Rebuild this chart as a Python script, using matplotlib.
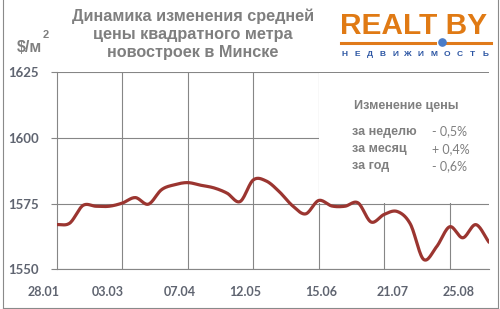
import matplotlib
matplotlib.use('Agg')
import matplotlib.pyplot as plt
import numpy as np
from matplotlib.patches import Rectangle
from matplotlib.lines import Line2D

# weekly price, $/m2
prices = [1567.0, 1567.6, 1574.3, 1574.0, 1574.0, 1575.2, 1577.3, 1574.8,
          1580.3, 1582.2, 1583.0, 1582.0, 1581.0, 1579.0, 1575.8, 1584.0,
          1583.6, 1579.5, 1574.2, 1571.1, 1576.2, 1574.1, 1574.0, 1575.3,
          1568.0, 1570.9, 1572.0, 1567.2, 1553.8, 1558.6, 1566.2, 1562.0,
          1567.0, 1560.3]
date_labels = ['28.01', '03.03', '07.04', '12.05', '15.06', '21.07', '25.08']
grid_weeks = [5, 10, 15, 20, 25, 30]
yticks = [1550, 1575, 1600, 1625]
change_names = ['за неделю', 'за месяц', 'за год']
change_values = ['- 0,5%', '+ 0,4%', '- 0,6%']

# label positions in week units (labels sit a bit off the gridlines in the original)
label_x = [-0.98, 3.88, 9.39, 14.40, 20.19, 25.61, 30.67]

W, H = 500, 309
gray = '#7f7f7f'
tickc = '#5f6470'
gridc = '#868686'


def px(x, y):
    return x / W, 1 - y / H


def catmull_rom(y, n=16):
    y = np.asarray(y, float)
    p = np.concatenate([[2 * y[0] - y[1]], y, [2 * y[-1] - y[-2]]])
    xs, ys = [], []
    t = np.linspace(0, 1, n, endpoint=False)
    for i in range(len(y) - 1):
        p0, p1, p2, p3 = p[i], p[i + 1], p[i + 2], p[i + 3]
        seg = 0.5 * ((2 * p1) + (-p0 + p2) * t + (2 * p0 - 5 * p1 + 4 * p2 - p3) * t ** 2
                     + (-p0 + 3 * p1 - 3 * p2 + p3) * t ** 3)
        xs.append(i + t)
        ys.append(seg)
    xs.append([len(y) - 1])
    ys.append([y[-1]])
    return np.concatenate(xs), np.concatenate(ys)


fig = plt.figure(figsize=(W / 100, H / 100), dpi=100)
ax = fig.add_axes([56.7 / W, 1 - 269.3 / H, (489 - 56.7) / W, (269.3 - 72.3) / H])

sx, sy = catmull_rom(prices)
ax.plot(sx, sy, color='#9b3530', lw=2.3, solid_capstyle='round', zorder=3)

for w in grid_weeks:
    ax.axvline(w, color=gridc, lw=0.8, zorder=0.5)
for v in yticks:
    ax.axhline(v, color=gridc, lw=0.8, zorder=0.5)

# white box for the change summary
ax.add_patch(Rectangle((20.06, 1575.4), 13.5, 49.2, facecolor='white',
                       edgecolor='none', zorder=1, clip_on=False))

for s in ['top', 'right']:
    ax.spines[s].set_visible(False)
for s in ['left', 'bottom']:
    ax.spines[s].set_color(gridc)
    ax.spines[s].set_linewidth(0.8)

ax.set_yticks(yticks)
ax.set_yticklabels([str(v) for v in yticks], fontfamily='Lato', fontweight='bold',
                   fontsize=9.5, color=tickc)
ax.tick_params(axis='y', direction='out', length=4.3, width=0.8, color=gridc, pad=8.5)
ax.set_xticks([])

ax.set_xlim(0, len(prices) - 1)
ax.set_ylim(1550, 1625)

# date labels under the axis
for lx, lab in zip(label_x, date_labels):
    ax.text(lx, -0.114, lab, transform=ax.get_xaxis_transform(), ha='center', va='center',
            fontfamily='Lato', fontweight='bold', fontsize=9, color=tickc, clip_on=False)

# title
title_lines = ['Динамика изменения средней', 'цены квадратного метра', 'новостроек в Минске']
for line, by in zip(title_lines, [20.7, 39.3, 57.3]):
    fig.text(*px(193, by), line, ha='center', va='baseline', fontfamily='Liberation Sans',
             fontweight='bold', fontsize=11.7, color=gray)

# unit
fig.text(*px(17, 51.7), '$/м', ha='left', va='baseline', fontfamily='Liberation Sans',
         fontweight='bold', fontsize=11.5, color=gray)
fig.text(*px(43, 35), '2', ha='left', va='center', fontfamily='Liberation Sans',
         fontweight='bold', fontsize=8, color=gray)

# logo
fig.text(*px(340, 34.3), 'REALT BY', ha='left', va='baseline', fontfamily='Liberation Sans',
         fontweight='bold', fontsize=21.5, color='#e07a14')
orange = '#e07a1a'
fig.add_artist(Line2D([341 / W, 435 / W], [1 - 42.7 / H] * 2, color=orange, lw=2.2))
fig.add_artist(Line2D([447 / W, 491 / W], [1 - 42.7 / H] * 2, color=orange, lw=2.2))
fig.add_artist(Line2D([441.7 / W], [1 - 42 / H], marker='o', markersize=5.2,
                      color='#4a7cc8', lw=0))
for ch, lx in zip('НЕДВИЖИМОСТЬ', np.linspace(344, 485, 12)):
    fig.text(*px(lx, 54.3), ch, ha='center', va='center', fontfamily='Liberation Sans',
             fontweight='bold', fontsize=6, color='#2b55a3')

# change summary
fig.text(*px(406.7, 105.5), 'Изменение цены', ha='center', va='center',
         fontfamily='Liberation Sans', fontweight='bold', fontsize=9, color=gray)
for name, val, ry in zip(change_names, change_values, [131.5, 149, 166.5]):
    fig.text(*px(351.7, ry), name, ha='left', va='center', fontfamily='Liberation Sans',
             fontweight='bold', fontsize=9, color=gray)
    fig.text(*px(431.7, ry), val, ha='left', va='center', fontfamily='Lato',
             fontsize=9, color=gray)

# frame
fc = '#8a8a8a'
fig.add_artist(Line2D([2.5 / W, 2.5 / W], [0, 1], color=fc, lw=0.8))
fig.add_artist(Line2D([497.5 / W, 497.5 / W], [0, 1], color=fc, lw=0.8))
fig.add_artist(Line2D([2.5 / W, 497.5 / W], [1 - 307.5 / H] * 2, color=fc, lw=0.8))

fig.savefig('out.png', dpi=100)
